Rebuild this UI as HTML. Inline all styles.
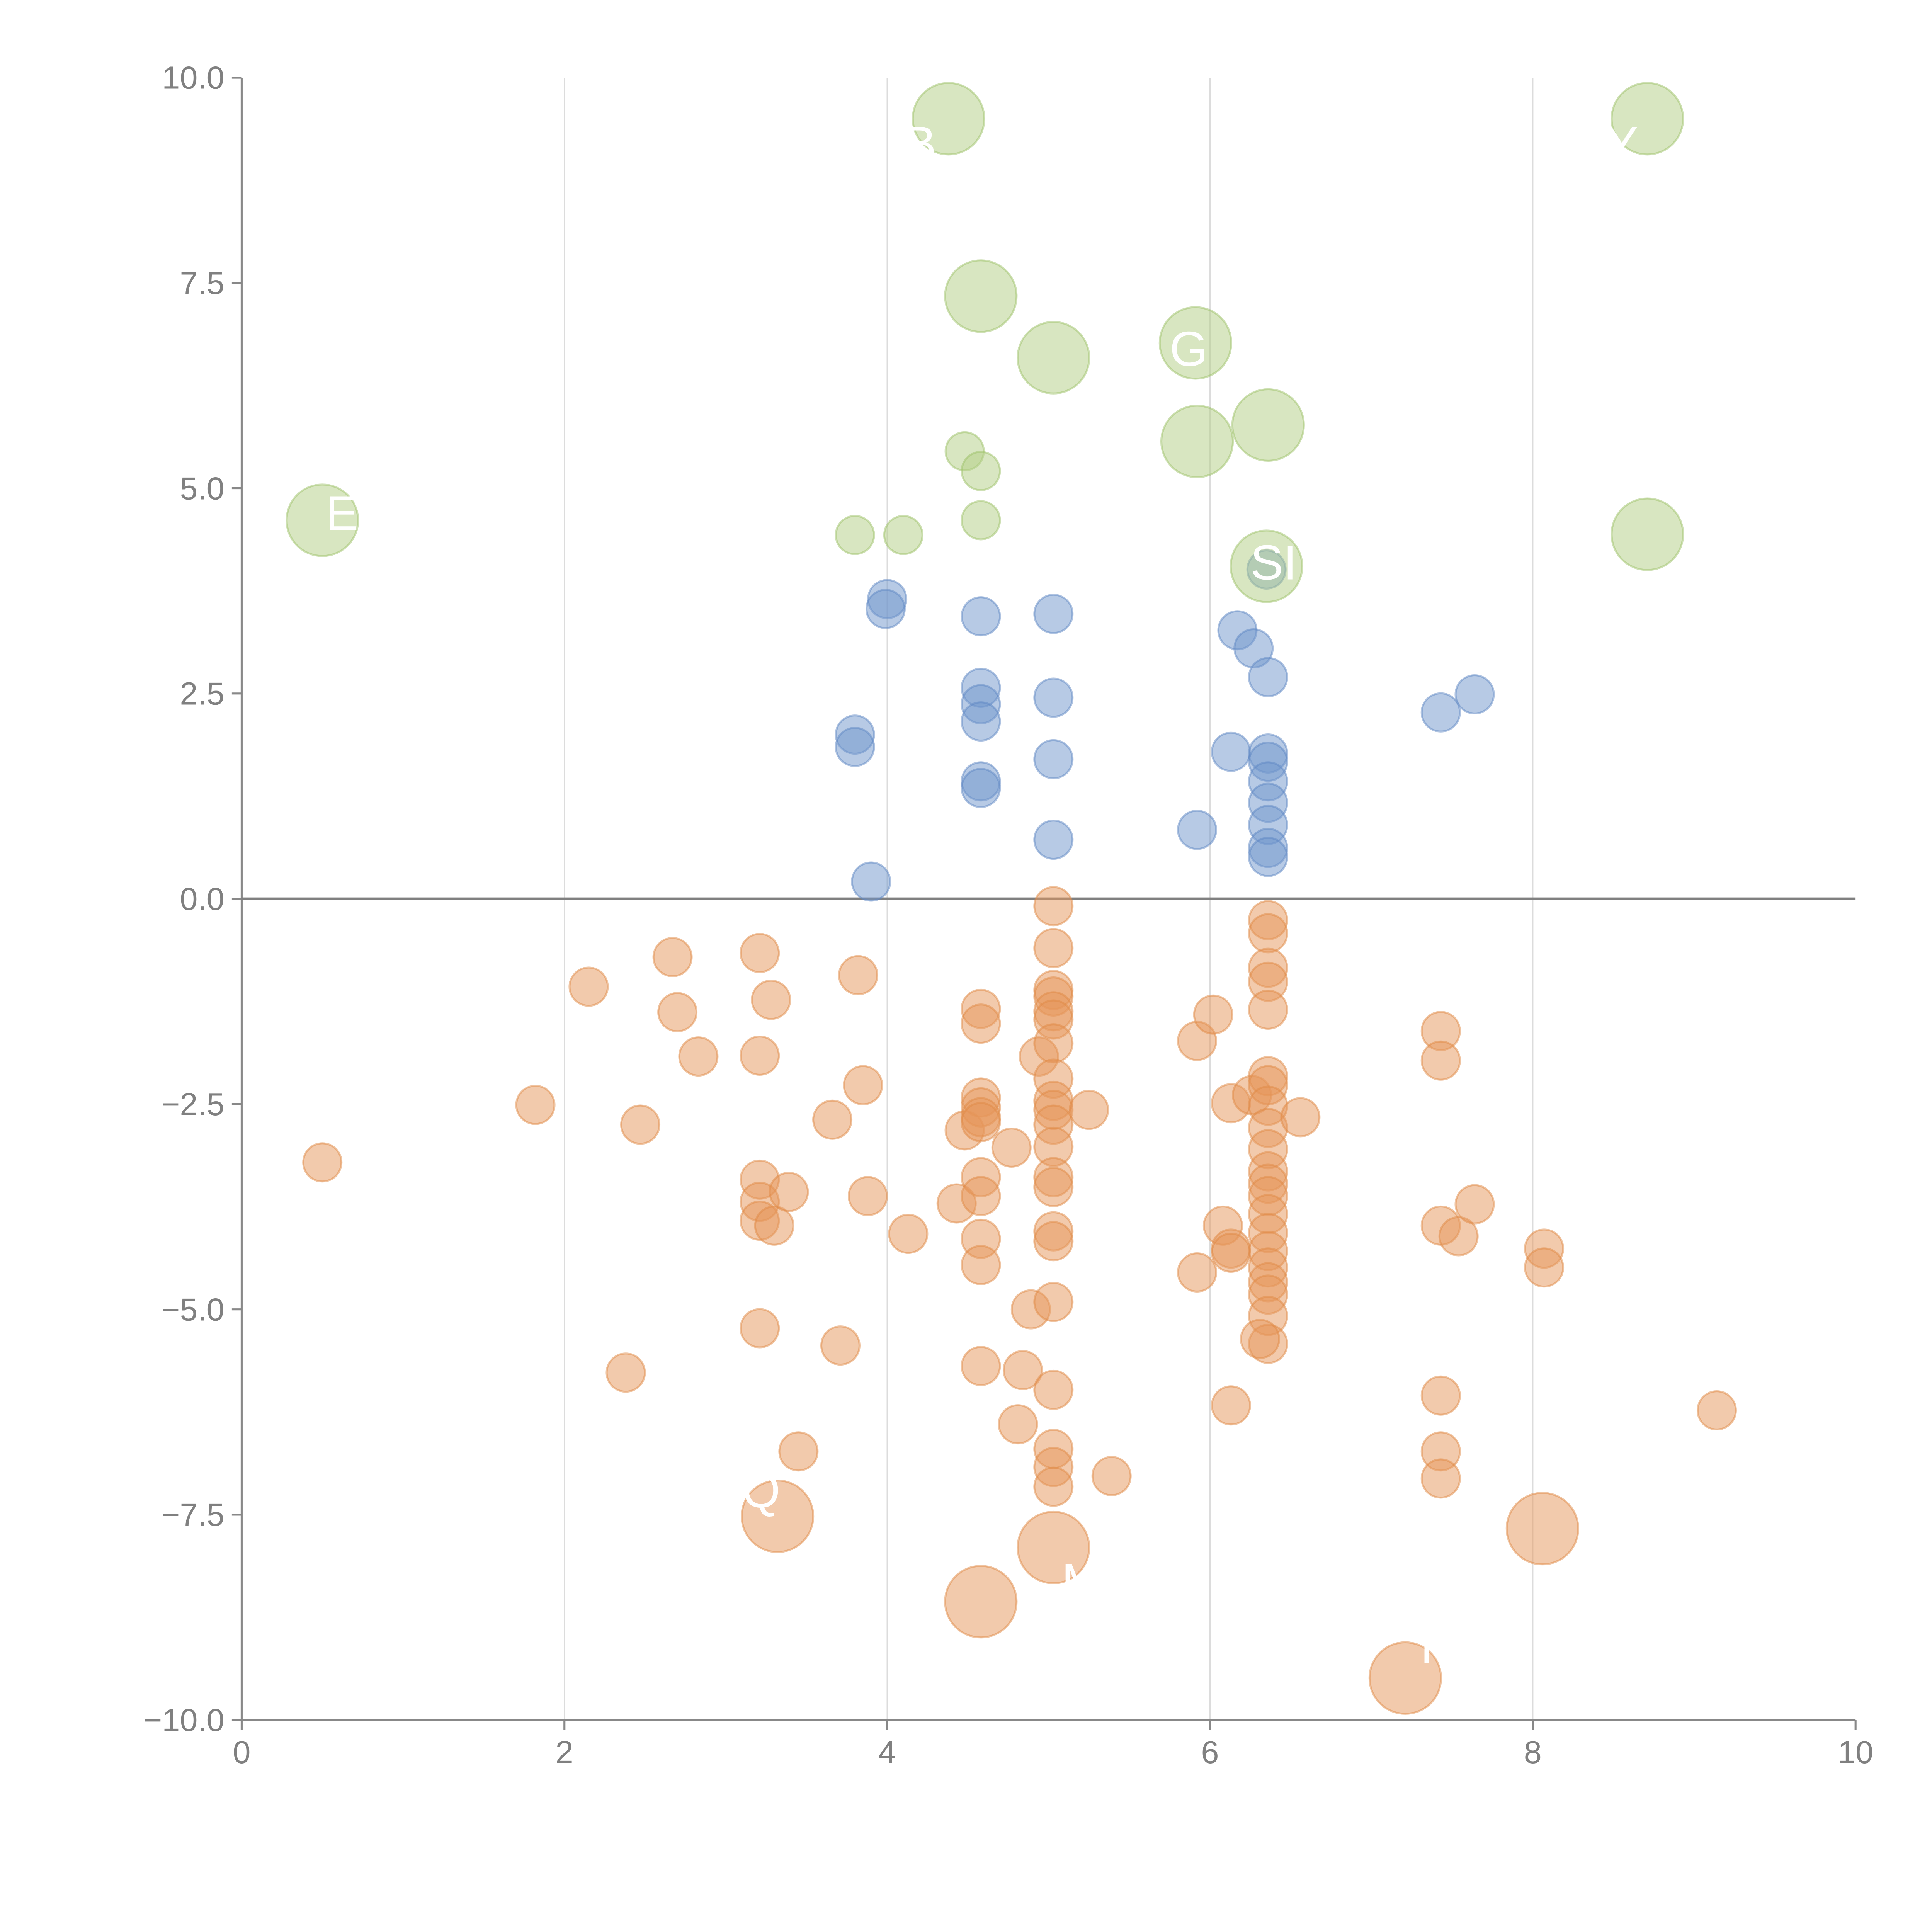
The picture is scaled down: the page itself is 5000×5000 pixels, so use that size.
<!DOCTYPE html>
<html><head><meta charset="utf-8">
<style>
html,body{margin:0;padding:0;background:#fff;}
svg{display:block;}
text{font-family:"Liberation Sans",sans-serif;}
</style></head>
<body>
<svg id="chart" width="5000" height="5000" viewBox="0 0 1567 1567" xmlns="http://www.w3.org/2000/svg">
<g id="grid"></g>
<g id="axes"></g>
<g id="marks"></g>
<g id="labels"></g>
</svg>
<script>
const xTicks = [0, 2, 4, 6, 8, 10];
const yTicks = [-10, -7.5, -5, -2.5, 0, 2.5, 5, 7.5, 10];
const yTickLabels = ["\u221210.0","\u22127.5","\u22125.0","\u22122.5","0.0","2.5","5.0","7.5","10.0"];

const greenBigX = [4.38, 8.71, 4.58, 5.03, 5.91, 5.92, 6.36, 0.50, 6.35, 8.71];
const greenBigY = [9.50, 9.50, 7.34, 6.59, 6.77, 5.57, 5.77, 4.61, 4.05, 4.44];
const greenSmallX = [4.48, 4.58, 4.58, 3.80, 4.10];
const greenSmallY = [5.45, 5.21, 4.61, 4.43, 4.43];

const blueX = [4.00,3.99,4.58,5.03,6.17,6.27,6.35,6.36,4.58,4.58,4.58,5.03,7.43,7.64,3.80,3.80,6.13,6.36,6.36,5.03,6.36,4.58,4.58,6.36,6.36,5.92,6.36,6.36,5.03,3.90];
const blueY = [3.65,3.53,3.44,3.47,3.27,3.05,4.01,2.70,2.57,2.37,2.16,2.45,2.27,2.49,2.00,1.85,1.79,1.77,1.67,1.70,1.43,1.43,1.35,1.17,0.90,0.84,0.62,0.51,0.72,0.21];

const orangeX = [0.50,1.82,2.15,2.38,2.47,2.67,2.70,2.83,3.21,3.21,3.28,3.21,3.21,3.21,3.30,3.39,3.21,3.45,3.66,3.71,3.82,3.85,3.88,4.13,4.43,4.48,
4.58,4.58,4.58,4.58,4.58,4.58,4.58,4.58,4.58,4.58,4.58,
4.77,4.81,4.84,4.89,4.94,
5.03,5.03,5.03,5.03,5.03,5.03,5.03,5.03,5.03,5.03,5.03,5.03,5.03,5.03,5.03,5.03,5.03,5.03,5.03,5.03,5.03,
5.25,5.39,5.92,6.02,5.92,6.08,6.13,6.13,6.13,6.13,6.26,
6.36,6.36,6.36,6.36,6.36,6.36,6.36,6.36,6.36,6.36,6.36,6.36,6.36,6.36,6.36,6.36,6.36,6.36,6.36,6.36,6.36,
6.31,6.56,7.43,7.43,7.43,7.43,7.43,7.43,7.54,7.64,8.07,8.07,9.14];
const orangeY = [-3.21,-2.51,-1.07,-5.77,-2.75,-0.71,-1.38,-1.92,-0.66,-1.91,-1.23,-3.42,-3.69,-3.92,-3.98,-3.57,-5.23,-6.73,-2.69,-5.44,-0.93,-2.27,-3.62,-4.08,-3.71,-2.82,
-1.34,-1.52,-2.42,-2.54,-2.66,-2.72,-3.39,-3.62,-4.14,-4.46,-5.69,
-3.03,-6.40,-5.74,-5.00,-1.92,
-0.09,-0.60,-1.11,-1.19,-1.37,-1.47,-1.76,-2.19,-2.46,-2.57,-2.75,-3.02,-3.39,-3.51,-4.05,-4.17,-4.91,-5.98,-6.70,-6.92,-7.16,
-2.57,-7.03,-1.73,-1.41,-4.55,-3.98,-2.49,-4.26,-4.31,-6.17,-2.39,
-0.26,-0.42,-0.84,-1.01,-1.35,-2.16,-2.27,-2.52,-2.79,-3.05,-3.32,-3.47,-3.62,-3.84,-4.07,-4.29,-4.49,-4.67,-4.82,-5.08,-5.42,
-5.36,-2.66,-1.61,-1.97,-3.98,-6.05,-6.73,-7.06,-4.11,-3.72,-4.26,-4.49,-6.23];
const orangeBigX = [3.32, 4.58, 5.03, 7.21, 8.06];
const orangeBigY = [-7.52, -8.56, -7.90, -9.49, -7.67];

const labelText = ["B","Y","G","SI","E","Q","I","M","A","T"];
const labelX = [4.1, 8.45, 5.75, 6.25, 0.52, 3.10, 4.10, 5.08, 8.12, 7.25];
const labelY = [9.2, 9.2, 6.7, 4.1, 4.7, -7.2, -8.3, -8.3, -8.3, -9.1];

const NS = "http://www.w3.org/2000/svg";
const X0 = 196, X1 = 1505, Y0 = 1395, Y1 = 63;
function sx(v){ return X0 + (v - 0) / 10 * (X1 - X0); }
function sy(v){ return Y0 - (v + 10) / 20 * (Y0 - Y1); }
function mk(tag, attrs, parent){
  const e = document.createElementNS(NS, tag);
  for (const k in attrs) e.setAttribute(k, attrs[k]);
  parent.appendChild(e);
  return e;
}
const grid = document.getElementById('grid');
const axes = document.getElementById('axes');
const marks = document.getElementById('marks');
const labels = document.getElementById('labels');

xTicks.forEach(t => {
  if (t > 0 && t < 10) {
    const g = mk('line', {x1: sx(t), x2: sx(t), y1: Y1, y2: Y0, stroke: '#dcdcdc', 'stroke-width': 1}, grid);
    
    
  }
  const tk = mk('line', {x1: sx(t), x2: sx(t), y1: Y0, y2: Y0 + 8, stroke: '#888', 'stroke-width': 1.6}, axes);
  
  
  const tx = mk('text', {x: sx(t), y: Y0 + 35, 'text-anchor': 'middle', 'font-size': 26, fill: '#808080'}, axes);
  tx.textContent = String(t);
  
  
});
yTicks.forEach((t, i) => {
  const tk = mk('line', {x1: X0 - 8, x2: X0, y1: sy(t), y2: sy(t), stroke: '#888', 'stroke-width': 1.6}, axes);
  
  
  const tx = mk('text', {x: X0 - 14, y: sy(t) + 9, 'text-anchor': 'end', 'font-size': 26, fill: '#808080'}, axes);
  tx.textContent = yTickLabels[i];
  
  
});
const xa = mk('line', {x1: X0, x2: X1, y1: Y0, y2: Y0, stroke: '#888', 'stroke-width': 1.6}, axes);


const ya = mk('line', {x1: X0, x2: X0, y1: Y1, y2: Y0, stroke: '#888', 'stroke-width': 1.6}, axes);


const zl = mk('line', {x1: X0, x2: X1, y1: sy(0), y2: sy(0), stroke: '#808080', 'stroke-width': 2.2}, axes);



function series(xs, ys, r, fill, stroke, name){
  xs.forEach((v, i) => {
    const c = mk('circle', {cx: sx(v), cy: sy(ys[i]), r: r, fill: fill, 'fill-opacity': 0.5, stroke: stroke, 'stroke-opacity': 0.5, 'stroke-width': 1.6}, marks);
    
    
  });
}
series(orangeX, orangeY, 15.5, '#e5965a', '#e08a46', 'orange-bubble');
series(blueX, blueY, 15.5, '#6f95cc', '#5f87c4', 'blue-bubble');
series(greenSmallX, greenSmallY, 15.5, '#b1cd84', '#9ec26a', 'green-bubble');
series(greenBigX, greenBigY, 29, '#b1cd84', '#9ec26a', 'green-large-bubble');
series(orangeBigX, orangeBigY, 29, '#e5965a', '#e08a46', 'orange-large-bubble');

labelText.forEach((s, i) => {
  const t = mk('text', {x: sx(labelX[i]), y: sy(labelY[i]) + 14, 'font-size': 40, fill: '#ffffff'}, labels);
  t.textContent = s;
  
  
});
</script>
</body></html>
